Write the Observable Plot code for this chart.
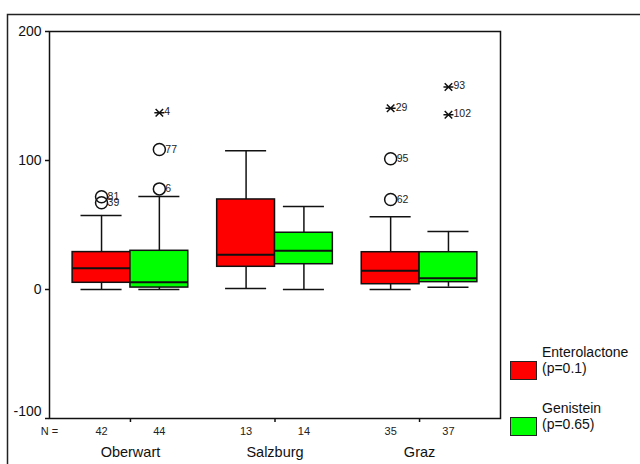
<!DOCTYPE html>
<html>
<head>
<meta charset="utf-8">
<script src="https://cdn.jsdelivr.net/npm/d3@7"></script>
<script src="https://cdn.jsdelivr.net/npm/@observablehq/plot@0.6"></script>
<style>
  html, body { margin: 0; padding: 0; background: #fff; }
  #wrap { position: relative; width: 640px; height: 464px; overflow: hidden; font-family: "Liberation Sans", Arial, sans-serif; }
  #legend { position: absolute; left: 510px; top: 344px; font-size: 14px; color: #111; }
  .item { position: relative; height: 56px; }
  .sw { position: absolute; left: 0; width: 25px; height: 17px; border: 1px solid #222; }
  .lab { position: absolute; left: 32px; top: 0; line-height: 16px; white-space: nowrap; }
</style>
</head>
<body>
<div id="wrap"></div>
<script>
const groups = ["Oberwart", "Salzburg", "Graz"];
const series = ["Enterolactone", "Genistein"];
const pValues = ["(p=0.1)", "(p=0.65)"];
const seriesColors = ["#ff0000", "#00ff00"];
// boxes in order: Oberwart E, Oberwart G, Salzburg E, Salzburg G, Graz E, Graz G
const counts      = [42, 44, 13, 14, 35, 37];
const lowWhisker  = [0, 0, 0.8, 0, 0, 1.8];
const q1          = [5.2, 1.5, 17.6, 19.6, 4.1, 5.7];
const median      = [16.5, 5.7, 26.9, 30, 14.5, 8.8];
const q3          = [29, 30, 69.8, 44, 28.9, 28.9];
const highWhisker = [57.4, 72, 107.5, 64.3, 56.3, 45];
// outliers
const outlierBox   = [0, 0, 1, 1, 1, 4, 4, 4, 5, 5];
const outlierValue = [71.9, 67.2, 78, 108.5, 137, 69.8, 101.3, 140.5, 157, 135.4];
const outlierId    = ["81", "39", "6", "77", "4", "62", "95", "29", "93", "102"];
const outlierKind  = ["o", "o", "o", "o", "*", "o", "o", "*", "*", "*"];
const yTicks = [-100, 0, 100, 200];

const half = 0.2, cap = 0.142;
const boxes = counts.map((n, i) => {
  const g = Math.floor(i / 2), s = i % 2;
  const c = g + (s ? half : -half);
  return {g, s, c, n, lo: lowWhisker[i], q1: q1[i], med: median[i], q3: q3[i], hi: highWhisker[i]};
});
const outs = outlierValue.map((v, i) => ({c: boxes[outlierBox[i]].c, v, id: outlierId[i], kind: outlierKind[i]}));
const circ = outs.filter(d => d.kind === "o");
const stars = outs.filter(d => d.kind === "*");

const star = {
  draw(ctx, size) {
    const r = Math.sqrt(size / Math.PI);
    const d = r * 0.75;
    ctx.moveTo(-r, 0); ctx.lineTo(r, 0);
    ctx.moveTo(-d, -d); ctx.lineTo(d, d);
    ctx.moveTo(-d, d); ctx.lineTo(d, -d);
  }
};

const chart = Plot.plot({
  width: 640, height: 464,
  marginLeft: 49, marginRight: 140, marginTop: 31, marginBottom: 46,
  style: {fontFamily: "Liberation Sans, Arial, sans-serif", color: "#111", background: "transparent"},
  x: {domain: [-0.56, 2.56], axis: null},
  y: {domain: [-100, 200], axis: null},
  marks: [
    Plot.axisY({ticks: yTicks, tickSize: 4, tickFormat: () => "", label: null, strokeWidth: 1.5}),
    Plot.text(yTicks.filter(t => t !== -100), {x: () => -0.56, y: d => d, text: d => String(d), dx: -8, textAnchor: "end", fontSize: 14, fill: "#111"}),
    Plot.text(yTicks.filter(t => t === -100), {x: () => -0.56, y: d => d, text: d => String(d), dx: -8, dy: -7, textAnchor: "end", fontSize: 14, fill: "#111"}),
    Plot.axisX({ticks: [0, 1, 2], tickSize: 4, tickFormat: () => "", label: null, strokeWidth: 1.5}),
    Plot.ruleX(boxes, {x: "c", y1: "lo", y2: "q1", stroke: "#111", strokeWidth: 1.5}),
    Plot.ruleX(boxes, {x: "c", y1: "q3", y2: "hi", stroke: "#111", strokeWidth: 1.5}),
    Plot.ruleY(boxes, {y: "lo", x1: d => d.c - cap, x2: d => d.c + cap, stroke: "#111", strokeWidth: 1.5}),
    Plot.ruleY(boxes, {y: "hi", x1: d => d.c - cap, x2: d => d.c + cap, stroke: "#111", strokeWidth: 1.5}),
    Plot.rect(boxes, {x1: d => d.c - half, x2: d => d.c + half, y1: "q1", y2: "q3", fill: d => seriesColors[d.s], stroke: "#111", strokeWidth: 1.5}),
    Plot.ruleY(boxes, {y: "med", x1: d => d.c - half, x2: d => d.c + half, stroke: "#111", strokeWidth: 2}),
    Plot.dot(circ, {x: "c", y: "v", r: 6, stroke: "#111", strokeWidth: 1.5, fill: "none"}),
    Plot.dot(stars, {x: "c", y: "v", r: 5, symbol: star, stroke: "#111", strokeWidth: 1.5}),
    Plot.text(circ, {x: "c", y: "v", text: "id", dx: 6, textAnchor: "start", fontSize: 10.5, fill: "#222"}),
    Plot.text(stars, {x: "c", y: "v", text: "id", dx: 5, dy: -1, textAnchor: "start", fontSize: 10.5, fill: "#222"}),
    Plot.text(boxes, {x: "c", y: () => -110, text: d => String(d.n), fontSize: 11, fill: "#222"}),
    Plot.text(["N ="], {x: () => -0.56, y: () => -110, text: d => d, fontSize: 11, fill: "#222"}),
    Plot.text(groups, {x: (d, i) => i, y: () => -126.5, text: d => d, fontSize: 14.5, fill: "#111"}),
    Plot.frame({stroke: "#111", strokeWidth: 1.5})
  ]
});

d3.select(chart).append("path")
  .attr("d", "M7.5,464 V14.5 H640")
  .attr("fill", "none").attr("stroke", "#222").attr("stroke-width", 1.5);

const wrap = document.getElementById("wrap");
wrap.appendChild(chart);

const legend = document.createElement("div");
legend.id = "legend";
series.forEach((s, i) => {
  const item = document.createElement("div");
  item.className = "item";
  const sw = document.createElement("div");
  sw.className = "sw";
  sw.style.background = seriesColors[i];
  sw.style.top = "17px";
  const lab = document.createElement("div");
  lab.className = "lab";
  lab.innerHTML = s + "<br>" + pValues[i];
  item.appendChild(sw); item.appendChild(lab);
  legend.appendChild(item);
});
wrap.appendChild(legend);
</script>
</body>
</html>
